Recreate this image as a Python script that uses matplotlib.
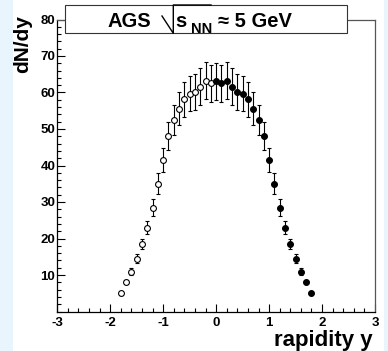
import matplotlib
matplotlib.use("Agg")
import matplotlib.pyplot as plt
from matplotlib.patches import Rectangle
from matplotlib.lines import Line2D
from matplotlib.ticker import MultipleLocator

plt.rcParams['font.family'] = ['Liberation Sans', 'DejaVu Sans']
plt.rcParams['font.weight'] = 'bold'

# ---- data ----
x_open = [-1.8, -1.7, -1.6, -1.5, -1.4, -1.3, -1.2, -1.1, -1.0,
          -0.9, -0.8, -0.7, -0.6, -0.5, -0.4, -0.3, -0.2, -0.1]
y_open = [5.0, 8.0, 10.9, 14.5, 18.5, 23.0, 28.4, 35.0, 41.5,
          48.0, 52.5, 55.6, 58.1, 59.6, 60.2, 61.6, 63.2, 62.5]
e_open = [0.4, 0.6, 0.9, 1.2, 1.5, 1.9, 2.3, 2.9, 3.3,
          3.8, 4.2, 4.5, 4.7, 4.8, 4.9, 5.0, 5.1, 5.0]

x_fill = [0.0, 0.1, 0.2, 0.3, 0.4, 0.5, 0.6, 0.7, 0.8, 0.9,
          1.0, 1.1, 1.2, 1.3, 1.4, 1.5, 1.6, 1.7, 1.8]
y_fill = [63.1, 62.5, 63.2, 61.6, 60.2, 59.6, 58.1, 55.6, 52.5, 48.0,
          41.5, 35.0, 28.4, 23.0, 18.5, 14.5, 10.9, 8.0, 5.0]
e_fill = [5.1, 5.0, 5.1, 5.0, 4.9, 4.8, 4.7, 4.5, 4.2, 3.8,
          3.3, 2.9, 2.3, 1.9, 1.5, 1.2, 0.9, 0.6, 0.4]

x_ticks = [-3, -2, -1, 0, 1, 2, 3]
x_ticklabels = ['-3', '-2', '-1', '0', '1', '2', '3']
y_ticks = [10, 20, 30, 40, 50, 60, 70, 80]
y_ticklabels = ['10', '20', '30', '40', '50', '60', '70', '80']

W, H = 388, 351
fig = plt.figure(figsize=(W / 100, H / 100), dpi=100)
fig.patch.set_facecolor('white')

def fx(px):
    return px / W

def fy(py):
    return (H - py) / H

# light blue side strips
fig.patches.append(Rectangle((0, 0), fx(13), 1, transform=fig.transFigure,
                             facecolor='#e9f5fd', edgecolor='none', zorder=0))
fig.patches.append(Rectangle((fx(383.5), 0), 1 - fx(383.5), 1, transform=fig.transFigure,
                             facecolor='#e9f5fd', edgecolor='none', zorder=0))

ax = fig.add_axes([fx(57.3), fy(311.5), fx(375) - fx(57.3), fy(19.5) - fy(311.5)])

ax.errorbar(x_open, y_open, yerr=e_open, fmt='o', color='black', mfc='white',
            mec='black', ms=4.2, mew=0.8, elinewidth=0.8, capsize=1.2, capthick=0.8)
ax.errorbar(x_fill, y_fill, yerr=e_fill, fmt='o', color='black', mfc='black',
            mec='black', ms=4.2, mew=0.8, elinewidth=0.8, capsize=1.2, capthick=0.8)

ax.set_xticks(x_ticks, x_ticklabels, fontsize=9.5, fontweight='bold')
ax.set_yticks(y_ticks, y_ticklabels, fontsize=9.5, fontweight='bold')
ax.xaxis.set_minor_locator(MultipleLocator(0.2))
ax.yaxis.set_minor_locator(MultipleLocator(2))
ax.set_xlim(-3, 3)
ax.set_ylim(0, 80)
ax.tick_params(which='both', direction='in', top=False, right=False, width=0.8)
ax.tick_params(which='major', length=6)
ax.tick_params(which='minor', length=3)
ax.tick_params(axis='x', which='major', pad=4)
ax.tick_params(axis='y', which='major', pad=1.5)

for s in ['left', 'bottom']:
    ax.spines[s].set_color('black')
    ax.spines[s].set_linewidth(0.9)
for s in ['right', 'top']:
    ax.spines[s].set_color('#555555')
    ax.spines[s].set_linewidth(0.9)

# axis titles
fig.text(fx(23), fy(15), 'dN/dy', rotation=90, ha='center', va='top',
         fontsize=15, fontweight='bold')
fig.text(fx(373), fy(346), 'rapidity y', ha='right', va='baseline',
         fontsize=16, fontweight='bold')

# title box
fig.patches.append(Rectangle((fx(65), fy(33.3)), fx(347) - fx(65), fy(5) - fy(33.3),
                             transform=fig.transFigure, facecolor='white',
                             edgecolor='#333333', linewidth=0.8, zorder=5))
base = fy(26.7)
fig.text(fx(108), base, 'AGS', ha='left', va='baseline', fontsize=14.5,
         fontweight='bold', zorder=6)
fig.lines.append(Line2D([fx(162), fx(173.3), fx(173.3), fx(211)],
                        [fy(16), fy(33.3), fy(5), fy(5)],
                        transform=fig.transFigure, color='black', linewidth=1.0, zorder=7))
fig.text(fx(175.5), base, 's', ha='left', va='baseline', fontsize=14.5,
         fontweight='bold', zorder=6)
fig.text(fx(190.5), fy(33.0), 'NN', ha='left', va='baseline', fontsize=10.5,
         fontweight='bold', zorder=6)
fig.text(fx(218), base, '\u2248 5 GeV', ha='left', va='baseline', fontsize=14.5,
         fontweight='bold', zorder=6)

fig.savefig('out.png', dpi=100)
